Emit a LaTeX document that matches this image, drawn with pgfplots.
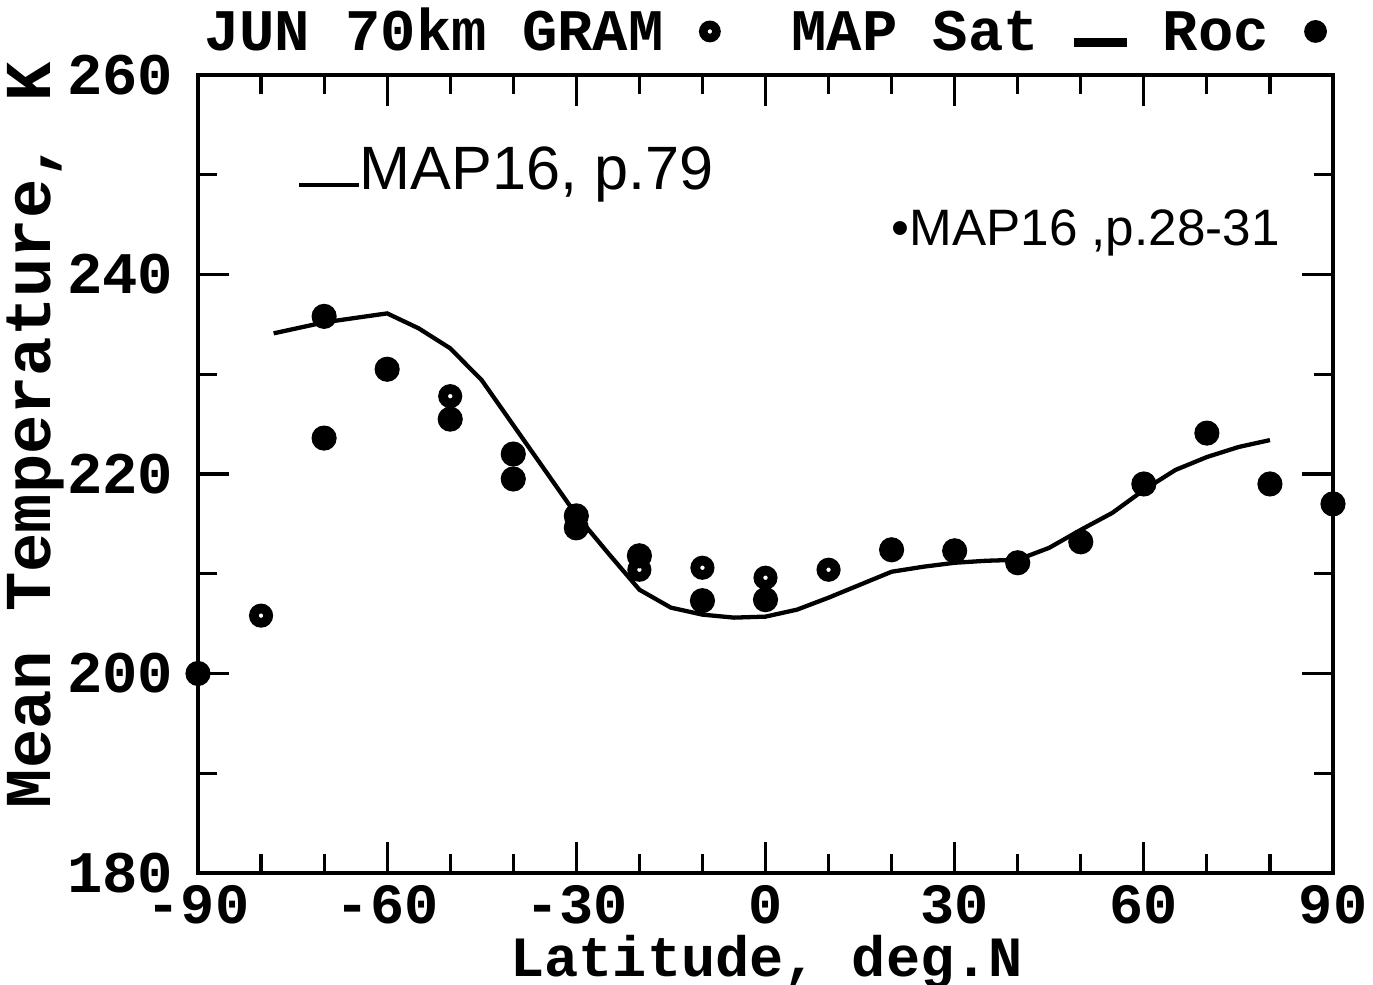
\documentclass[border=0pt]{standalone}
\usepackage{pgfplots}
\pgfplotsset{compat=1.18}
\usepackage{fontspec}
\setmainfont{Liberation Mono}
\newfontfamily\hand{Liberation Sans}
\begin{document}
\begin{tikzpicture}
\begin{axis}[
 name=ax,
 scale only axis, width=397.25bp, height=279.3bp,
 xmin=-90, xmax=90, ymin=180, ymax=260,
 xtick={-90,-60,...,90}, minor xtick={-80,-70,...,80},
 ytick={180,200,...,260}, minor ytick={190,210,...,250},
 tick align=inside,
 major tick length=11bp, minor tick length=6.5bp,
 tick style={line width=1.1bp, black},
 axis line style={line width=1.4bp},
 font=\fontsize{20.7}{24}\selectfont\bfseries,
 /pgf/number format/assume math mode=true,
 /pgf/number format/1000 sep={},
 clip=false,
 xticklabel style={inner sep=0pt, yshift=-4bp, font=\fontsize{20}{22}\selectfont\bfseries},
 yticklabel style={inner sep=0pt, xshift=-8.5bp},
 title={JUN 70km GRAM {\normalfont\tikz[baseline=-0.6ex]\draw[line width=3bp,fill=white] (0,0) circle (2.3bp);}\ \ MAP Sat \rule[0.05em]{0.9em}{0.16em} Roc {\tikz[baseline=-0.6ex]\fill (0,0) circle (4bp);}},
 title style={at={(axis description cs:0.5,1)}, anchor=south, yshift=-1bp},
 xlabel={Latitude, deg.N},
 xlabel style={at={(axis description cs:0.501,-0.112)}, anchor=center, inner sep=0pt, font=\fontsize{20}{22}\selectfont\bfseries},
 ylabel={Mean Temperature, K},
 ylabel style={at={(axis description cs:-0.1436,0.549)}, anchor=center, rotate=0, font=\fontsize{23}{26}\selectfont\bfseries},
]
% MAP16 p.79 curve
\addplot[black, line width=1.5bp] coordinates {
 (-78,234.1) (-70,235.2) (-60,236.1) (-55,234.6) (-50,232.6) (-45,229.4)
 (-40,224.9) (-35,220.4) (-30,215.9) (-25,212.1) (-20,208.4) (-15,206.6)
 (-10,205.9) (-5,205.6) (0,205.7) (5,206.4) (10,207.6) (15,208.9)
 (20,210.2) (25,210.7) (30,211.1) (35,211.3) (40,211.4) (45,212.6)
 (50,214.4) (55,216.1) (60,218.4) (65,220.4) (70,221.7) (75,222.7) (80,223.4)
};
% GRAM
\addplot[only marks, mark=*, mark size=2.5bp, mark options={draw=black, fill=white, line width=3.4bp}] coordinates {
 (-80,205.8) (-50,227.8) (-10,210.6) (0,209.6) (10,210.4) (-20,210.4)
};
% Rocket
\addplot[only marks, mark=*, mark size=4.2bp, black] coordinates {
 (-90,200) (-70,223.6) (-70,235.8) (-60,230.5) (-50,225.5) (-40,222.0)
 (-40,219.5) (-30,215.8) (-30,214.6) (-20,211.8) (-10,207.3) (0,207.4)
 (20,212.4) (30,212.3) (40,211.1) (50,213.2) (60,219.0) (70,224.1)
 (80,219.0) (90,217.0)
};
\node[anchor=west, font=\hand\fontsize{21.5}{24}\selectfont] at (axis cs:-75.5,250) {\rule[0.05em]{21bp}{1.2bp}MAP16, p.79};
\node[anchor=west, font=\hand\fontsize{18}{22}\selectfont] at (axis cs:18.4,244.2) {•MAP16 ,p.28-31};
\end{axis}
\pgfresetboundingbox
\path ([xshift=-69.3bp,yshift=-39.2bp]ax.south west) rectangle ([xshift=14bp,yshift=26.25bp]ax.north east);
\end{tikzpicture}
\end{document}
